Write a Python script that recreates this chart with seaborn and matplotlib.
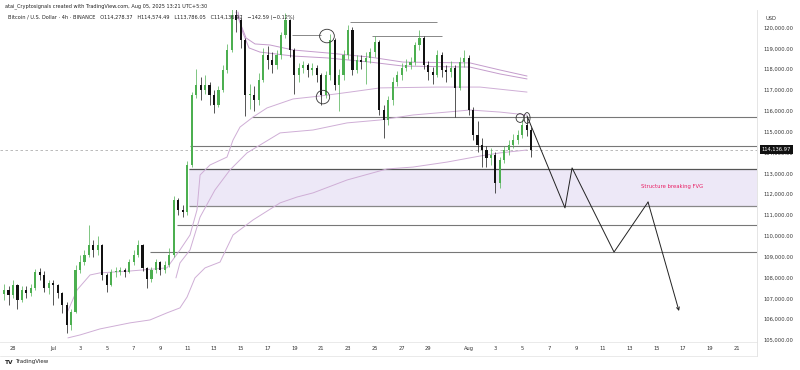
import numpy as np
import matplotlib
matplotlib.use("Agg")
import matplotlib.pyplot as plt
import matplotlib.transforms as mtransforms
from matplotlib.patches import Ellipse, Rectangle
import seaborn as sns

# BTCUSD candles (8h steps, day 0 = Jun 28)
first_open = 107200
closes = [107400, 107150, 107650, 106900, 107400, 107250, 107500, 108250, 108100, 107500,
          107750, 107650, 107250, 106700, 105700, 106350, 108350, 108750, 109100, 109550,
          109300, 109550, 108100, 107650, 108250, 108250, 108350, 108250, 108750, 109100,
          109550, 108450, 107950, 108350, 108750, 108350, 108600, 109100, 111700, 111250,
          111150, 113400, 116750, 117250, 117000, 117250, 116750, 116300, 117000, 117950,
          118900, 120600, 120350, 119400, 116750, 116750, 116500, 117500, 118700, 118450,
          118200, 118700, 119650, 120350, 118900, 117700, 118050, 118200, 117950, 118050,
          117700, 116750, 117700, 119400, 117250, 117700, 118700, 119900, 117950, 118450,
          118350, 118550, 118800, 119300, 116050, 115550, 116500, 117400, 117700, 118050,
          118200, 118350, 119150, 119500, 118200, 117850, 117700, 118700, 117950, 117850,
          118050, 117100, 118350, 118550, 116050, 114850, 114350, 114100, 113750, 113900,
          112550, 113650, 114100, 114350, 114600, 114850, 115300, 115100, 114136.97]
highs = [107700, 107600, 107900, 107700, 107600, 107600, 107700, 108400, 108450, 108300,
         107900, 107900, 107700, 107300, 106800, 106500, 108600, 109100, 109300, 110500,
         109800, 110000, 109600, 108200, 108400, 108500, 108500, 108450, 108900, 109300,
         109800, 109600, 108500, 108500, 108900, 108800, 108800, 109400, 111900, 111800,
         111500, 113600, 116900, 118000, 117600, 117700, 117400, 117000, 117200, 118200,
         119200, 121500, 123200, 120500, 119500, 117300, 117200, 117800, 119000, 119100,
         118800, 118900, 119800, 120700, 120400, 119000, 118300, 118400, 118300, 118300,
         118200, 117800, 117900, 119700, 119500, 118000, 118900, 120100, 120000, 118700,
         118700, 118800, 119000, 119600, 119400, 116300, 116700, 117600, 117900, 118300,
         118500, 118600, 119300, 119900, 119600, 118400, 118100, 118900, 118800, 118200,
         118400, 118200, 118600, 118900, 118700, 116200, 115500, 114700, 114300, 114200,
         114000, 113800, 114300, 114600, 114900, 115100, 115600, 115700, 115200]
lows = [106900, 106700, 107000, 106500, 106800, 107000, 107100, 107400, 107900, 107300,
        107200, 106700, 107000, 106300, 105350, 105500, 106300, 108200, 108600, 109000,
        109000, 109100, 107900, 107300, 107600, 108000, 108100, 108000, 108200, 108600,
        109000, 108300, 107500, 107800, 108200, 108100, 108200, 108500, 109000, 111000,
        110900, 111000, 113300, 116600, 116500, 116800, 116300, 115900, 116200, 116900,
        117800, 118800, 119800, 119000, 115750, 116100, 116000, 116300, 117400, 118000,
        117800, 118000, 118500, 119500, 118600, 116800, 117400, 117800, 117600, 117700,
        117400, 116300, 116600, 117500, 117000, 116000, 117500, 118500, 117700, 117800,
        118000, 117300, 118300, 118600, 115800, 114700, 115300, 116300, 117200, 117500,
        117900, 118000, 118200, 118900, 118000, 117500, 117300, 117600, 117600, 117400,
        117600, 115700, 117000, 118100, 115800, 114600, 114000, 113300, 113300, 113400,
        112050, 112300, 113500, 113900, 114200, 114400, 114700, 114800, 113800]

# purple anchored bands (day, price)
band_a_x = [4.03, 4.78, 5.75, 6.49, 8.73, 11.49, 12.46, 13.21, 13.73, 13.96, 14.70, 15.97,
            16.42, 16.94, 17.91, 18.96, 20.90, 22.91, 25.15, 27.39, 31.64, 34.85, 38.36]
band_a_y = [106300, 107400, 108120, 108220, 108310, 108460, 109320, 110040, 111240, 112920,
            113400, 113780, 114600, 115220, 115700, 116140, 116570, 116710, 116900, 117100,
            117140, 117140, 116900]
band_b_x = [12.16, 12.46, 13.21, 13.96, 15.07, 16.19, 17.46, 19.93, 22.39, 24.93, 27.39,
            29.85, 32.39, 34.10, 36.34, 38.36]
band_b_y = [107980, 108700, 109320, 110900, 112200, 113160, 113980, 114940, 115080, 115420,
            115560, 115800, 115940, 116040, 115940, 115800]
band_c_x = [4.10, 5.00, 6.49, 8.73, 10.22, 11.49, 12.46, 12.99, 13.58, 14.33, 15.45, 16.42,
            17.91, 19.93, 21.19, 22.39, 24.93, 27.91, 29.85, 32.39, 34.85, 36.34, 38.36]
band_c_y = [105100, 105240, 105530, 105820, 105960, 106300, 106540, 107060, 107980, 108460,
            108740, 110040, 110760, 111580, 111860, 112060, 112680, 113210, 113300, 113540,
            113830, 113980, 114120]
band_d_x = [16.64, 17.01, 17.39, 18.06, 19.18, 20.90, 23.43, 26.64, 29.10, 34.10, 36.34, 38.36]
band_d_y = [120744, 120120, 119500, 119210, 119160, 118920, 118780, 118580, 118340, 118300,
            117960, 117670]
band_e_x = [16.79, 17.16, 17.61, 18.43, 20.90, 23.43, 26.64, 29.10, 34.10, 36.34, 38.36]
band_e_y = [120744, 119740, 119020, 118820, 118630, 118540, 118340, 118150, 118100, 117770,
            117530]

# horizontal levels: (start day, price); extend to right edge
levels_start = [17.84, 13.20, 12.24, 10.22]
levels_price = [115704, 114335, 110519, 109222]
# short levels: (start, end, price)
short_start = [25.15, 20.80, 26.80]
short_end = [31.64, 23.00, 32.01]
short_price = [120264, 119650, 119590]

fvg_start = 13.13
fvg_top = 113231
fvg_bottom = 111445

# projected path
path_x = [38.36, 41.19, 41.72, 44.85, 47.39, 49.70]
path_y = [115750, 111340, 113260, 109220, 111620, 106390]

last_price = 114136.97

date_pos = [0, 3, 5, 7, 9, 11, 13, 15, 17, 19, 21, 23, 25, 27, 29, 31,
            34, 36, 38, 40, 42, 44, 46, 48, 50, 52, 54]
date_lbl = ["28", "Jul", "3", "5", "7", "9", "11", "13", "15", "17", "19", "21", "23",
            "25", "27", "29", "Aug", "3", "5", "7", "9", "11", "13", "15", "17", "19", "21"]
price_ticks = list(range(105000, 121000, 1000))

sns.set_theme(style="white")
plt.rcParams["font.family"] = ["DejaVu Sans"]

fig = plt.figure(figsize=(8, 3.7), dpi=100)
ax = fig.add_axes([0.0, 1 - 342 / 370, 757 / 800, 332 / 370])
xmin, xmax = -0.97, 55.52
ax.set_xlim(xmin, xmax)
ax.set_ylim(104902, 120840)

# FVG zone and levels
ax.add_patch(Rectangle((fvg_start, fvg_bottom), xmax - fvg_start, fvg_top - fvg_bottom,
                       facecolor="#ede8f7", edgecolor="none", zorder=0))
ax.hlines(fvg_top, fvg_start, xmax, color="#555555", lw=0.9, zorder=1)
ax.hlines(fvg_bottom, fvg_start, xmax, color="#888888", lw=0.9, zorder=1)
ax.hlines(levels_price, levels_start, xmax, color="#777777", lw=0.8, zorder=1)
ax.hlines(short_price, short_start, short_end, color="#888888", lw=0.7, zorder=1)
ax.axhline(last_price, color="#b0b0b0", lw=0.6, ls=(0, (3, 3)), zorder=1)

# bands
band_color = "#cfaed6"
for bx, by, c in [(band_a_x, band_a_y, band_color), (band_b_x, band_b_y, band_color),
                  (band_c_x, band_c_y, band_color), (band_d_x, band_d_y, "#c49ccc"),
                  (band_e_x, band_e_y, "#c49ccc")]:
    sns.lineplot(x=bx, y=by, ax=ax, color=c, lw=0.7, sort=False, zorder=2)

# candles
opens = [first_open] + closes[:-1]
t = np.arange(len(closes)) / 3 - 2 / 3
for i in range(len(closes)):
    o, c = opens[i], closes[i]
    col = "#4caf50" if c >= o else "#111111"
    ax.vlines(t[i], lows[i], highs[i], color=col, lw=0.5, zorder=3)
    ax.bar(t[i], max(abs(c - o), 40), bottom=min(o, c), width=0.16, color=col,
           linewidth=0, zorder=4)

# projection path
sns.lineplot(x=path_x[:-1], y=path_y[:-1], ax=ax, color="#222222", lw=0.7, sort=False, zorder=5)
ax.annotate("", xy=(path_x[-1], path_y[-1]), xytext=(path_x[-2], path_y[-2]),
            arrowprops=dict(arrowstyle="->", color="#222222", lw=0.7,
                            mutation_scale=5, shrinkA=0, shrinkB=0), zorder=5)

# hand drawn circles
for cx, cy, w, h in [(23.43, 119590, 1.1, 650), (23.13, 116660, 1.0, 650),
                     (37.84, 115655, 0.6, 420), (38.36, 115655, 0.45, 520)]:
    ax.add_patch(Ellipse((cx, cy), w, h, fill=False, edgecolor="#333333", lw=0.6, zorder=6))

ax.text(49.18, 112344, "Structure breaking FVG", color="#e91e63", fontsize=3.8,
        ha="center", va="center")

# axes styling
for s in ax.spines.values():
    s.set_visible(False)
ax.spines["right"].set_visible(True)
ax.spines["right"].set_color("#e0e0e0")
ax.spines["right"].set_linewidth(0.6)
ax.spines["bottom"].set_visible(True)
ax.spines["bottom"].set_color("#e6e6e6")
ax.spines["bottom"].set_linewidth(0.6)
ax.grid(False)
ax.yaxis.tick_right()
ax.set_yticks(price_ticks)
ax.set_yticklabels([f"{v:,.2f}" for v in price_ticks])
ax.set_xticks(date_pos)
ax.set_xticklabels(date_lbl)
ax.tick_params(axis="y", length=0, pad=4.5, labelsize=3.7, labelcolor="#333333")
ax.tick_params(axis="x", length=0, pad=3, labelsize=3.7, labelcolor="#333333")

# last price tag
trans = mtransforms.blended_transform_factory(ax.transAxes, ax.transData)
ax.text(1.006, last_price, "114,136.97", transform=trans, color="white", fontsize=3.7,
        va="center", ha="left",
        bbox=dict(boxstyle="square,pad=0.35", facecolor="#111111", edgecolor="none"),
        clip_on=False, zorder=10)

fig.text(766 / 800, 1 - 19 / 370, "USD", fontsize=3.7, color="#333333", va="center")
fig.text(5 / 800, 1 - 6 / 370,
         "atai_Cryptosignals created with TradingView.com, Aug 05, 2025 13:21 UTC+5:30",
         fontsize=3.6, color="#222222", va="center")
fig.text(8 / 800, 1 - 17 / 370,
         "Bitcoin / U.S. Dollar · 4h · BINANCE   O114,278.37   H114,574.49   "
         "L113,786.05   C114,136.97   \u2212142.59 (\u22120.12%)",
         fontsize=3.6, color="#222222", va="center", zorder=20)
fig.text(5 / 800, 1 - 362 / 370, "TV", fontsize=4.2, weight="bold", color="#222222",
         va="center")
fig.text(15 / 800, 1 - 362 / 370, "TradingView", fontsize=4.0, color="#222222", va="center")
fig.add_artist(plt.Line2D([0, 757 / 800], [1 - 356 / 370] * 2, color="#e6e6e6", lw=0.6))
fig.add_artist(plt.Line2D([757 / 800] * 2, [1 - 356 / 370, 1 - 342 / 370],
                          color="#e0e0e0", lw=0.6))

fig.savefig("out.png", dpi=100, facecolor="white")
